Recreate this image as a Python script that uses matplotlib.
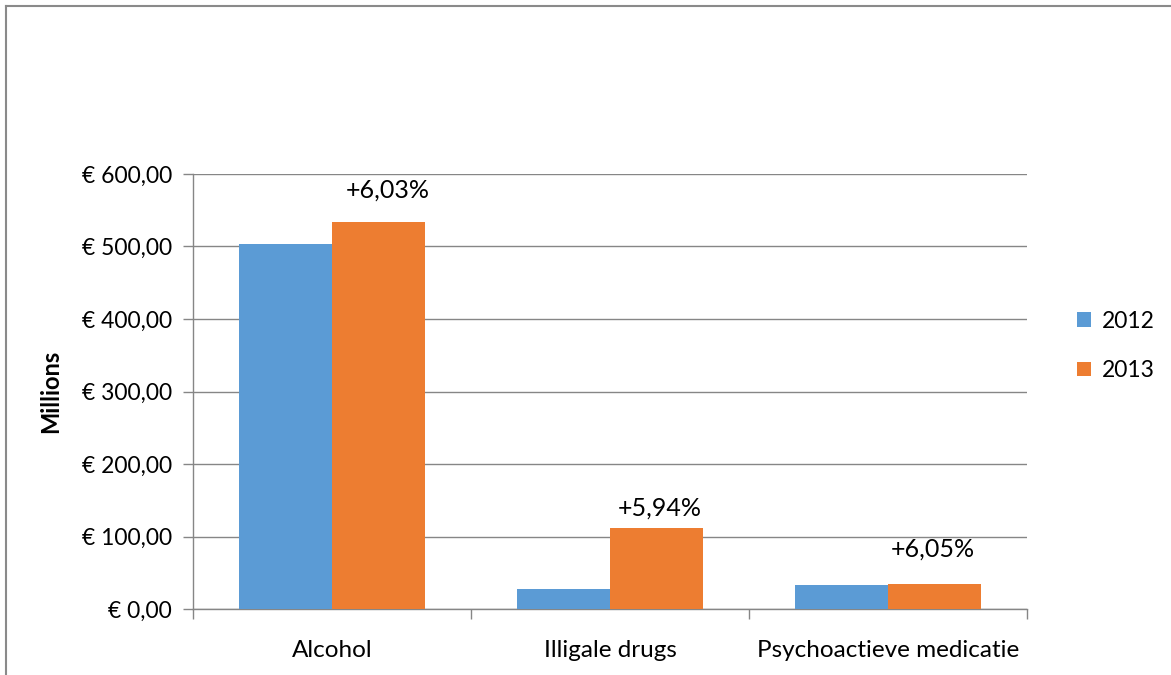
import matplotlib.pyplot as plt
from matplotlib.lines import Line2D
from matplotlib.ticker import FuncFormatter, FixedLocator
import numpy as np

categories = ["Alcohol", "Illigale drugs", "Psychoactieve medicatie"]
years = ["2012", "2013"]
values_2012 = [503, 27.6, 32.7]
values_2013 = [534, 112.4, 34.6]
growth_labels = ["+6,03%", "+5,94%", "+6,05%"]

plt.rcParams['font.family'] = ['Lato', 'DejaVu Sans']

blue = "#5B9BD5"
orange = "#ED7D31"
grey = "#868686"

fig = plt.figure(figsize=(11.71, 6.75), dpi=100)
ax = fig.add_axes([193 / 1171, 1 - 609 / 675, (1027 - 193) / 1171, (609 - 174) / 675])

x = np.arange(len(categories))
w = 0.335
ax.bar(x - w / 2, values_2012, w, color=blue, label=years[0], zorder=3)
ax.bar(x + w / 2, values_2013, w, color=orange, label=years[1], zorder=3)

# hand placed growth labels above the 2013 bars
label_pos = [(0.2, 578), (1.18, 139), (2.16, 83)]
for (lx, ly), txt in zip(label_pos, growth_labels):
    ax.text(lx, ly, txt, ha="center", va="center", fontsize=18)

ax.set_xlim(-0.5, 2.5)
ax.set_ylim(0, 600)
ax.set_yticks(np.arange(0, 601, 100))
ax.yaxis.set_major_formatter(FuncFormatter(lambda v, p: "€ {:,.2f}".format(v).replace(".", "#").replace(",", ".").replace("#", ",")))
ax.grid(axis="y", color=grey, linewidth=1, zorder=0)

ax.xaxis.set_major_locator(FixedLocator([-0.5, 0.5, 1.5, 2.5]))
ax.xaxis.set_major_formatter(FuncFormatter(lambda v, p: ""))
ax.set_xticks(x, minor=True)
ax.set_xticklabels(categories, minor=True)
ax.tick_params(axis="x", which="minor", length=0, pad=22, labelsize=17.5)
ax.tick_params(axis="x", which="major", length=7, color=grey, width=1)
ax.tick_params(axis="y", length=7, color=grey, width=1, labelsize=16.5, pad=8)

for s in ["top", "right"]:
    ax.spines[s].set_visible(False)
for s in ["left", "bottom"]:
    ax.spines[s].set_color(grey)
    ax.spines[s].set_linewidth(1)

ax.set_ylabel("Millions", fontsize=17, fontweight="bold", labelpad=14)

leg = ax.legend(loc="center left", bbox_to_anchor=(1.035, 0.605), frameon=False,
                fontsize=16.5, handlelength=0.6, handleheight=0.6, handletextpad=0.5,
                labelspacing=1.25)

# chart frame (cropped on right and bottom)
fig.add_artist(Line2D([6 / 1171, 6 / 1171], [0, 1 - 6 / 675], color="#8a8a8a", linewidth=1.5))
fig.add_artist(Line2D([6 / 1171, 1], [1 - 6 / 675, 1 - 6 / 675], color="#8a8a8a", linewidth=1.5))

fig.savefig("out.png", dpi=100)
